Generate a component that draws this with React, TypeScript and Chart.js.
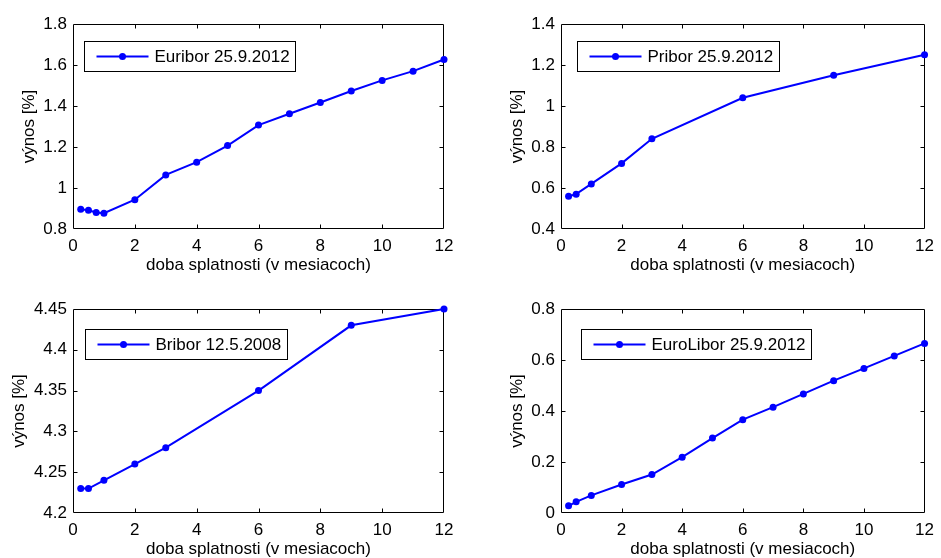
import React, { useEffect, useRef } from "react";
import { Chart, registerables } from "chart.js";

Chart.register(...registerables);

const FONT = '"Liberation Sans", Arial, Helvetica, sans-serif';
const FONT_SIZE = 17;

// ---- data ----
const euriborX = [0.25, 0.5, 0.75, 1, 2, 3, 4, 5, 6, 7, 8, 9, 10, 11, 12];
const euriborY = [0.896, 0.891, 0.881, 0.877, 0.943, 1.064, 1.126, 1.207, 1.307, 1.362, 1.417, 1.473, 1.525, 1.57, 1.627];

const priborX = [0.25, 0.5, 1, 2, 3, 6, 9, 12];
const priborY = [0.56, 0.57, 0.62, 0.72, 0.84, 1.04, 1.15, 1.25];

const briborX = [0.25, 0.5, 1, 2, 3, 6, 9, 12];
const briborY = [4.23, 4.23, 4.24, 4.26, 4.28, 4.35, 4.43, 4.45];

const euroLiborX = [0.25, 0.5, 1, 2, 3, 4, 5, 6, 7, 8, 9, 10, 11, 12];
const euroLiborY = [0.028, 0.044, 0.069, 0.112, 0.151, 0.219, 0.294, 0.366, 0.415, 0.467, 0.519, 0.567, 0.616, 0.665];

const xTicks = [0, 2, 4, 6, 8, 10, 12];
const euriborYTicks = [0.8, 1, 1.2, 1.4, 1.6, 1.8];
const priborYTicks = [0.4, 0.6, 0.8, 1, 1.2, 1.4];
const briborYTicks = [4.2, 4.25, 4.3, 4.35, 4.4, 4.45];
const euroLiborYTicks = [0, 0.2, 0.4, 0.6, 0.8];

const seriesLabels = ["Euribor 25.9.2012", "Pribor 25.9.2012", "Bribor 12.5.2008", "EuroLibor 25.9.2012"];
const xTitle = "doba splatnosti (v mesiacoch)";
const yTitle = "výnos [%]";

// ---- layout (positions only) ----
type PanelCfg = {
  label: string;
  xs: number[];
  ys: number[];
  yTicks: number[];
  canvas: { left: number; top: number; width: number; height: number };
  area: { l: number; t: number; r: number; b: number };
  legend: { dx: number; dy: number };
  yTitleGap: number;
};

const panels: PanelCfg[] = [
  {
    label: seriesLabels[0], xs: euriborX, ys: euriborY, yTicks: euriborYTicks,
    canvas: { left: 0, top: 0, width: 470, height: 279 },
    area: { l: 73, t: 24, r: 444, b: 229 },
    legend: { dx: 11, dy: 17 },
    yTitleGap: 43.5,
  },
  {
    label: seriesLabels[1], xs: priborX, ys: priborY, yTicks: priborYTicks,
    canvas: { left: 470, top: 0, width: 471, height: 279 },
    area: { l: 561, t: 24, r: 932, b: 229 },
    legend: { dx: 16, dy: 17 },
    yTitleGap: 43.5,
  },
  {
    label: seriesLabels[2], xs: briborX, ys: briborY, yTicks: briborYTicks,
    canvas: { left: 0, top: 279, width: 470, height: 279 },
    area: { l: 73, t: 309, r: 444, b: 513 },
    legend: { dx: 12, dy: 20 },
    yTitleGap: 54,
  },
  {
    label: seriesLabels[3], xs: euroLiborX, ys: euroLiborY, yTicks: euroLiborYTicks,
    canvas: { left: 470, top: 279, width: 471, height: 279 },
    area: { l: 561, t: 309, r: 932, b: 513 },
    legend: { dx: 20, dy: 20 },
    yTitleGap: 43.5,
  },
];

const Y_W = 64;
const X_H = 45;
const BLUE = "#0000ff";

const framePlugin = {
  id: "matlabFrame",
  beforeDatasetsDraw(chart: any) {
    const { ctx, chartArea } = chart;
    const { left, top, right, bottom } = chartArea;
    const xs = chart.scales.x;
    const ys = chart.scales.y;
    const L = Math.round(left) + 0.5;
    const T = Math.round(top) + 0.5;
    const R = Math.round(right) - 0.5;
    const B = Math.round(bottom) - 0.5;
    ctx.save();
    ctx.strokeStyle = "#000";
    ctx.lineWidth = 1;
    ctx.beginPath();
    ctx.rect(L, T, R - L, B - T);
    const tl = 4;
    xs.ticks.forEach((t: any) => {
      const px = Math.round(xs.getPixelForValue(t.value)) + 0.5;
      if (px <= L + 1 || px >= R - 1) return;
      ctx.moveTo(px, B);
      ctx.lineTo(px, B - tl);
      ctx.moveTo(px, T);
      ctx.lineTo(px, T + tl);
    });
    ys.ticks.forEach((t: any) => {
      const py = Math.round(ys.getPixelForValue(t.value)) + 0.5;
      if (py <= T + 1 || py >= B - 1) return;
      ctx.moveTo(L, py);
      ctx.lineTo(L + tl, py);
      ctx.moveTo(R, py);
      ctx.lineTo(R - tl, py);
    });
    ctx.stroke();
    ctx.restore();
  },
};

const boxLegendPlugin = {
  id: "boxLegend",
  afterDraw(chart: any, _args: any, opts: any) {
    const { ctx, chartArea } = chart;
    const ds = chart.data.datasets[0];
    ctx.save();
    ctx.font = `${FONT_SIZE}px ${FONT}`;
    const tw = ctx.measureText(ds.label).width;
    const x = Math.round(chartArea.left + opts.dx) + 0.5;
    const y = Math.round(chartArea.top + opts.dy) + 0.5;
    const w = Math.round(70 + tw + 6);
    const h = 30;
    ctx.fillStyle = "#fff";
    ctx.fillRect(x, y, w, h);
    ctx.strokeStyle = "#000";
    ctx.lineWidth = 1;
    ctx.strokeRect(x, y, w, h);
    const cy = y + h / 2;
    ctx.strokeStyle = ds.borderColor;
    ctx.lineWidth = 2;
    ctx.beginPath();
    ctx.moveTo(x + 12, cy);
    ctx.lineTo(x + 64, cy);
    ctx.stroke();
    ctx.fillStyle = ds.borderColor;
    ctx.beginPath();
    ctx.arc(x + 38, cy, 3.5, 0, Math.PI * 2);
    ctx.fill();
    ctx.fillStyle = "#000";
    ctx.textAlign = "left";
    ctx.textBaseline = "middle";
    ctx.fillText(ds.label, x + 70, cy + 1);
    ctx.restore();
  },
};

function Panel({ cfg }: { cfg: PanelCfg }) {
  const ref = useRef<HTMLCanvasElement>(null);
  useEffect(() => {
    const { canvas, area } = cfg;
    const lc = area.l - canvas.left;
    const tc = area.t - canvas.top;
    const rc = area.r - canvas.left;
    const bc = area.b - canvas.top;
    const font = { family: FONT, size: FONT_SIZE };
    const chart = new Chart(ref.current as HTMLCanvasElement, {
      type: "line",
      data: {
        datasets: [
          {
            label: cfg.label,
            data: cfg.xs.map((v, i) => ({ x: v, y: cfg.ys[i] })),
            borderColor: BLUE,
            backgroundColor: BLUE,
            borderWidth: 2,
            pointRadius: 3.5,
            pointBorderWidth: 0,
            pointBackgroundColor: BLUE,
            tension: 0,
            clip: false as any,
          },
        ],
      },
      plugins: [framePlugin, boxLegendPlugin],
      options: {
        animation: false,
        responsive: false,
        devicePixelRatio: 1,
        events: [],
        layout: {
          padding: {
            left: lc - Y_W,
            top: tc,
            right: canvas.width - rc,
            bottom: Math.max(0, canvas.height - bc - X_H),
          },
        },
        plugins: {
          legend: { display: false },
          tooltip: { enabled: false },
          boxLegend: cfg.legend,
        } as any,
        scales: {
          x: {
            type: "linear",
            position: "bottom",
            min: xTicks[0],
            max: xTicks[xTicks.length - 1],
            grid: { display: false, drawTicks: false },
            border: { display: false },
            afterBuildTicks: (s: any) => {
              s.ticks = xTicks.map((v) => ({ value: v }));
            },
            afterFit: (s: any) => {
              s.height = X_H;
            },
            ticks: {
              padding: 7,
              color: "#000",
              font,
              maxRotation: 0,
              autoSkip: false,
              callback: (v: any) => String(v),
            },
            title: {
              display: true,
              text: xTitle,
              color: "#000",
              font: { family: FONT, size: FONT_SIZE, lineHeight: 1 },
              padding: { top: 0, bottom: 0 },
            },
          },
          y: {
            type: "linear",
            position: "left",
            min: cfg.yTicks[0],
            max: cfg.yTicks[cfg.yTicks.length - 1],
            grid: { display: false, drawTicks: false },
            border: { display: false },
            afterBuildTicks: (s: any) => {
              s.ticks = cfg.yTicks.map((v) => ({ value: v }));
            },
            afterFit: (s: any) => {
              s.width = Y_W;
            },
            ticks: {
              padding: 6,
              color: "#000",
              font,
              autoSkip: false,
              callback: (v: any) => String(v),
            },
            title: {
              display: true,
              text: yTitle,
              color: "#000",
              font: { family: FONT, size: FONT_SIZE, lineHeight: 1 },
              padding: { top: Y_W - cfg.yTitleGap - FONT_SIZE / 2, bottom: 0 },
            },
          },
        },
      } as any,
    });
    return () => chart.destroy();
  }, [cfg]);
  return (
    <canvas
      ref={ref}
      width={cfg.canvas.width}
      height={cfg.canvas.height}
      style={{
        position: "absolute",
        left: cfg.canvas.left,
        top: cfg.canvas.top,
        width: cfg.canvas.width,
        height: cfg.canvas.height,
      }}
    />
  );
}

export default function App() {
  return (
    <div
      style={{
        position: "absolute",
        left: 0,
        top: 0,
        width: 941,
        height: 558,
        background: "#fff",
        overflow: "hidden",
      }}
    >
      {panels.map((p) => (
        <Panel key={p.label} cfg={p} />
      ))}
    </div>
  );
}
